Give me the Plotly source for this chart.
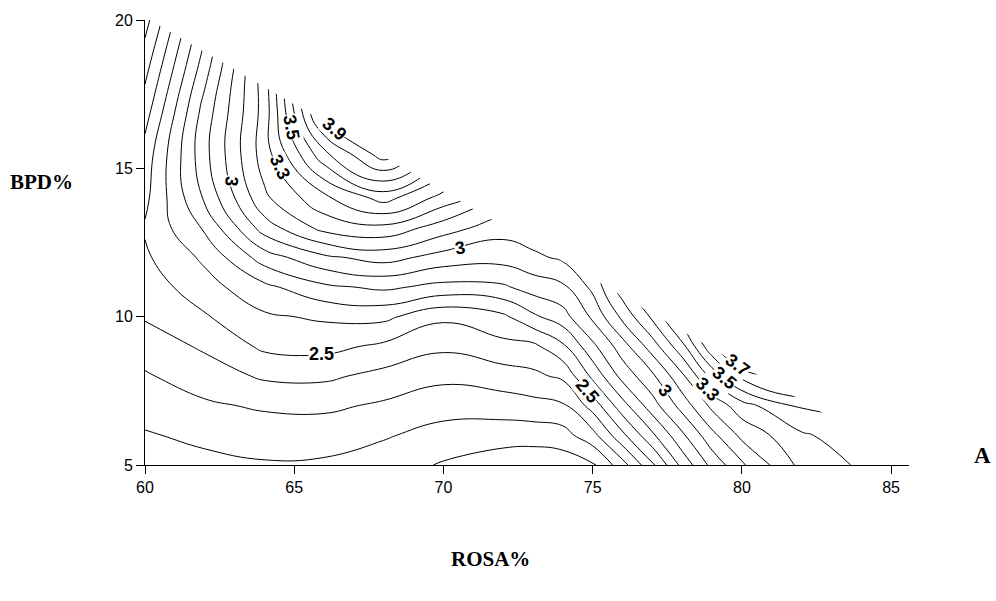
import plotly.graph_objects as go

# Grid of the mixture design: ROSA% (x) and BPD% (y)
rosa = [60, 62, 64, 66, 68, 70, 72, 73, 74, 75, 76, 77, 78, 79, 80, 82, 84, 86]
bpd = [5, 6, 7, 8, 9, 10, 11, 12, 13, 14, 15.5, 17, 18.5, 20]

# Fitted response, one list per BPD% level (values follow the ROSA% grid)
resp_bpd_05 = [2.15, 2.17, 2.19, 2.185, 2.15, 2.09, 2.04, 2.03, 2.04, 2.08, 2.26, 2.48, 2.73, 2.93, 3.085, 3.33, 3.415, 3.46]
resp_bpd_06 = [2.19, 2.225, 2.247, 2.244, 2.21, 2.163, 2.145, 2.143, 2.16, 2.265, 2.475, 2.68, 2.88, 3.07, 3.225, 3.385, 3.46, 3.49]
resp_bpd_07 = [2.245, 2.285, 2.313, 2.32, 2.285, 2.24, 2.25, 2.267, 2.285, 2.44, 2.66, 2.855, 3.04, 3.225, 3.36, 3.515, 3.53, 3.55]
resp_bpd_08 = [2.29, 2.35, 2.415, 2.42, 2.37, 2.325, 2.355, 2.378, 2.42, 2.625, 2.835, 2.98, 3.18, 3.43, 3.635, 3.82, 3.70, 3.62]
resp_bpd_09 = [2.345, 2.415, 2.52, 2.53, 2.48, 2.42, 2.47, 2.475, 2.58, 2.775, 2.955, 3.15, 3.37, 3.68, 3.90, 3.90, 3.78, 3.68]
resp_bpd_10 = [2.41, 2.49, 2.585, 2.615, 2.625, 2.52, 2.58, 2.68, 2.76, 2.92, 3.125, 3.32, 3.55, 3.80, 3.92, 3.88, 3.78, 3.70]
resp_bpd_11 = [2.445, 2.56, 2.675, 2.78, 2.82, 2.77, 2.785, 2.845, 2.88, 3.025, 3.26, 3.45, 3.62, 3.78, 3.88, 3.85, 3.77, 3.70]
resp_bpd_12 = [2.485, 2.62, 2.85, 2.98, 3.04, 2.96, 2.94, 2.977, 3.02, 3.08, 3.30, 3.515, 3.65, 3.75, 3.82, 3.80, 3.75, 3.70]
resp_bpd_13 = [2.51, 2.715, 3.05, 3.235, 3.275, 3.15, 3.04, 3.07, 3.11, 3.15, 3.35, 3.52, 3.65, 3.72, 3.78, 3.76, 3.72, 3.68]
resp_bpd_14 = [2.475, 2.815, 3.18, 3.375, 3.54, 3.36, 3.21, 3.215, 3.22, 3.26, 3.415, 3.52, 3.62, 3.68, 3.72, 3.72, 3.70, 3.66]
resp_bpd_155 = [2.44, 2.87, 3.25, 3.675, 3.96, 3.65, 3.38, 3.36, 3.35, 3.38, 3.45, 3.53, 3.62, 3.65, 3.68, 3.68, 3.66, 3.64]
resp_bpd_17 = [2.35, 2.84, 3.24, 3.98, 4.05, 3.85, 3.55, 3.52, 3.46, 3.45, 3.48, 3.54, 3.58, 3.62, 3.64, 3.64, 3.63, 3.62]
resp_bpd_185 = [2.26, 2.75, 3.25, 3.90, 4.00, 3.85, 3.62, 3.56, 3.52, 3.51, 3.51, 3.54, 3.57, 3.61, 3.62, 3.62, 3.62, 3.61]
resp_bpd_20 = [2.16, 2.66, 3.18, 3.80, 3.92, 3.80, 3.62, 3.56, 3.53, 3.51, 3.51, 3.52, 3.55, 3.58, 3.61, 3.61, 3.61, 3.58]

response = [resp_bpd_05, resp_bpd_06, resp_bpd_07, resp_bpd_08, resp_bpd_09,
            resp_bpd_10, resp_bpd_11, resp_bpd_12, resp_bpd_13, resp_bpd_14,
            resp_bpd_155, resp_bpd_17, resp_bpd_185, resp_bpd_20]

# Upper limit of the experimental region (straight constraint edge)
edge_rosa = [60.0, 85.7]
edge_bpd = [20.09, 5.0]

# Contour levels
level_start, level_end, level_step = 2.1, 3.9, 0.1

# Contour value labels: (level, ROSA%, BPD%, text angle in degrees)
label_spots = [
    (3.0, 62.89, 14.56, 95),
    (3.3, 64.53, 15.06, 65),
    (3.5, 64.90, 16.39, 80),
    (3.9, 66.35, 16.33, 40),
    (3.0, 70.57, 12.32, -10),
    (2.5, 65.93, 8.73, 0),
    (2.5, 74.83, 7.50, 50),
    (3.0, 77.44, 7.50, 54),
    (3.3, 78.84, 7.56, 45),
    (3.5, 79.42, 7.94, 40),
    (3.7, 79.86, 8.37, 36),
]

X_RANGE = [60, 85.6]
Y_RANGE = [5, 20]
SANS = "Liberation Sans, Arial, sans-serif"
SERIF = "Liberation Serif, Times New Roman, serif"

fig = go.Figure()
fig.add_trace(go.Contour(
    x=rosa, y=bpd, z=response,
    autocontour=False,
    contours=dict(start=level_start, end=level_end + level_step * 0.05,
                  size=level_step, coloring="lines", showlabels=False),
    colorscale=[[0, "black"], [1, "black"]],
    showscale=False,
    line=dict(width=1, smoothing=1.3),
    hoverinfo="skip",
))

# Blank out the infeasible part of the design space above the constraint edge
x_out = X_RANGE[1] + 2
y_out = Y_RANGE[1] + 2
fig.add_trace(go.Scatter(
    x=[edge_rosa[0], edge_rosa[1], x_out, x_out, edge_rosa[0], edge_rosa[0]],
    y=[edge_bpd[0], edge_bpd[1], edge_bpd[1], y_out, y_out, edge_bpd[0]],
    mode="lines", fill="toself", fillcolor="white",
    line=dict(width=0, color="white"), hoverinfo="skip", showlegend=False,
))

axis_common = dict(
    showline=True, linecolor="black", linewidth=1,
    ticks="outside", ticklen=8, tickwidth=1, tickcolor="black",
    showgrid=False, zeroline=False,
    tickfont=dict(family=SANS, size=16, color="black"),
)

fig.update_layout(
    width=996, height=601,
    margin=dict(l=145, r=87, t=15, b=136),
    paper_bgcolor="white", plot_bgcolor="white",
    showlegend=False,
    xaxis=dict(range=X_RANGE, tickvals=[60, 65, 70, 75, 80, 85], **axis_common),
    yaxis=dict(range=Y_RANGE, tickvals=[5, 10, 15, 20], **axis_common),
)

# Value labels sitting on their contour lines
for level, lx, ly, angle in label_spots:
    fig.add_annotation(
        x=lx, y=ly, xref="x", yref="y", text=f"{level:g}",
        showarrow=False, textangle=angle, bgcolor="white", borderpad=0,
        xanchor="center", yanchor="middle",
        font=dict(family=SANS, size=18, color="black", weight="bold"),
    )

serif_bold = dict(family=SERIF, color="black", weight="bold")
fig.add_annotation(text="BPD%", xref="paper", yref="paper", x=-0.135, y=0.635,
                   xanchor="center", yanchor="middle",
                   showarrow=False, font=dict(size=21, **serif_bold))
fig.add_annotation(text="ROSA%", xref="paper", yref="paper", x=0.452, y=-0.211,
                   xanchor="center", yanchor="middle",
                   showarrow=False, font=dict(size=21, **serif_bold))
fig.add_annotation(text="A", xref="paper", yref="paper", x=1.096, y=0.022,
                   xanchor="center", yanchor="middle",
                   showarrow=False, font=dict(size=23, **serif_bold))

fig.write_html("out.html")
